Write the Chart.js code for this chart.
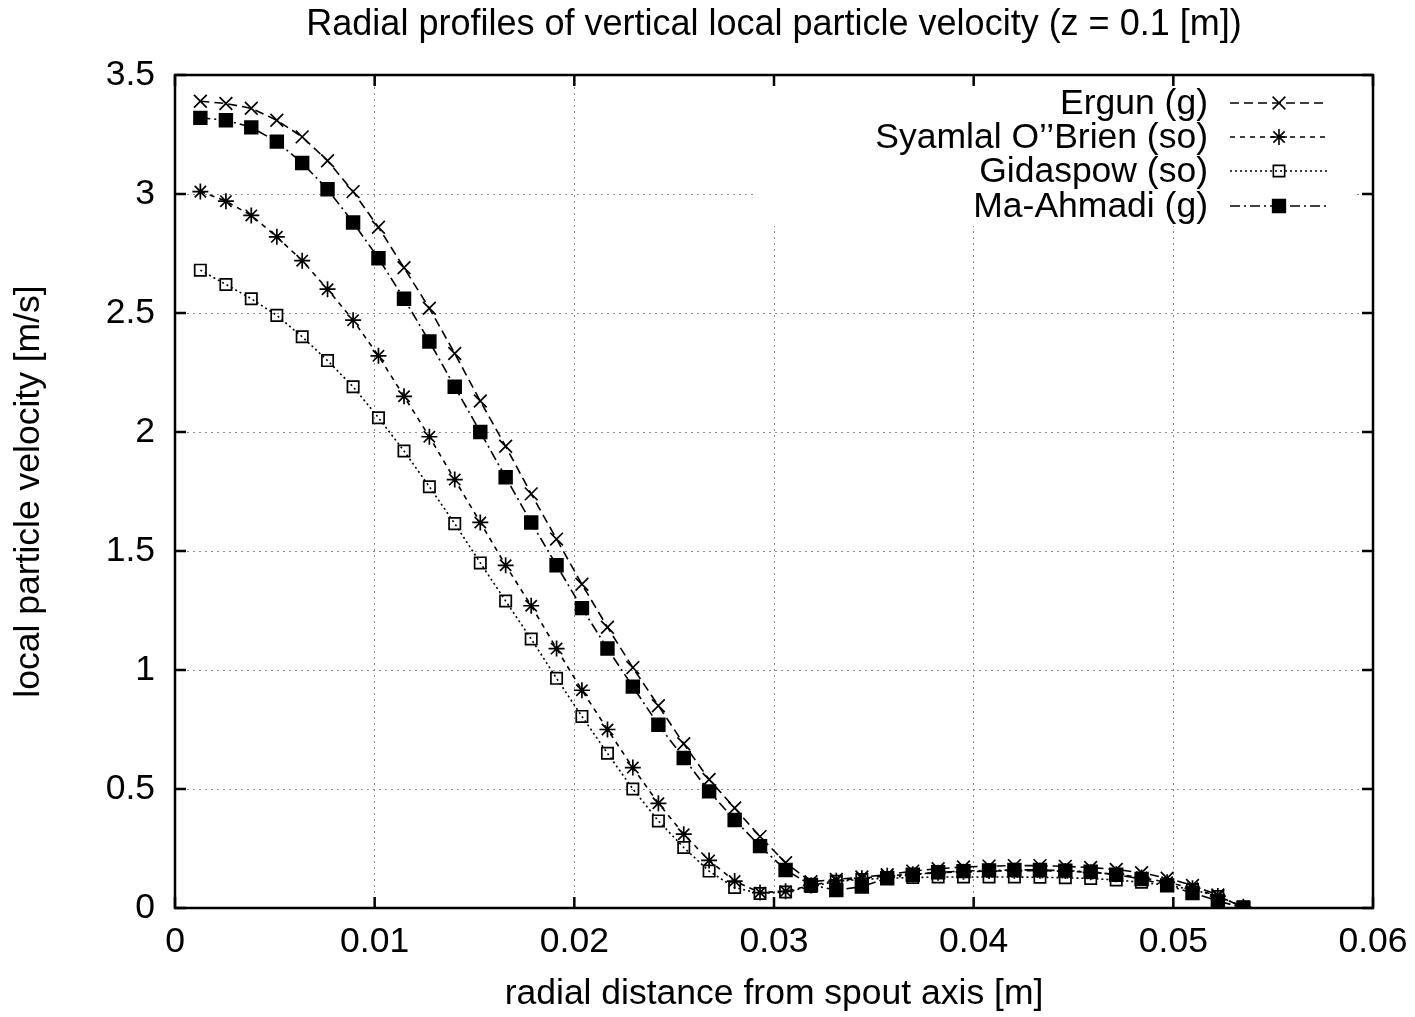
<!DOCTYPE html>
<html>
<head>
<meta charset="utf-8">
<script src="https://cdn.jsdelivr.net/npm/chart.js@4"></script>
<style>
  html, body { margin: 0; padding: 0; background: #fff; }
  #wrap { width: 1415px; height: 1017px; }
</style>
</head>
<body>
<div id="wrap"><canvas id="c"></canvas></div>
<script>
// radial positions [m]
const radius = [
  0.00127, 0.00255, 0.00382, 0.00510, 0.00637, 0.00764, 0.00892, 0.01019, 0.01147, 0.01274,
  0.01401, 0.01529, 0.01656, 0.01784, 0.01911, 0.02038, 0.02166, 0.02293, 0.02421, 0.02548,
  0.02675, 0.02803, 0.02930, 0.03058, 0.03185, 0.03312, 0.03440, 0.03567, 0.03695, 0.03822,
  0.03949, 0.04077, 0.04204, 0.04332, 0.04459, 0.04586, 0.04714, 0.04841, 0.04969, 0.05096,
  0.05223, 0.05351
];

// vertical particle velocity [m/s]
const ergun = [
  3.39, 3.38, 3.36, 3.31, 3.24, 3.14, 3.01, 2.86, 2.69, 2.52,
  2.33, 2.13, 1.94, 1.74, 1.55, 1.36, 1.18, 1.01, 0.85, 0.69,
  0.54, 0.42, 0.30, 0.19, 0.11, 0.12, 0.13, 0.14, 0.155, 0.165,
  0.172, 0.176, 0.178, 0.178, 0.175, 0.17, 0.162, 0.148, 0.125, 0.095,
  0.055, 0.0
];
const syamlal = [
  3.01, 2.97, 2.91, 2.82, 2.72, 2.60, 2.47, 2.32, 2.15, 1.98,
  1.80, 1.62, 1.44, 1.27, 1.09, 0.915, 0.75, 0.59, 0.44, 0.31,
  0.20, 0.113, 0.065, 0.07, 0.095, 0.115, 0.125, 0.135, 0.142, 0.148,
  0.152, 0.155, 0.157, 0.157, 0.155, 0.15, 0.142, 0.128, 0.108, 0.083,
  0.05, 0.005
];
const gidaspow = [
  2.68, 2.62, 2.56, 2.49, 2.40, 2.30, 2.19, 2.06, 1.92, 1.77,
  1.615, 1.45, 1.29, 1.13, 0.965, 0.805, 0.65, 0.50, 0.366, 0.254,
  0.155, 0.086, 0.061, 0.067, 0.09, 0.112, 0.12, 0.125, 0.128, 0.13,
  0.13, 0.13, 0.13, 0.129, 0.127, 0.124, 0.118, 0.108, 0.095, 0.078,
  0.048, 0.005
];
const maAhmadi = [
  3.32, 3.31, 3.28, 3.22, 3.13, 3.02, 2.88, 2.73, 2.56, 2.38,
  2.19, 2.00, 1.81, 1.62, 1.44, 1.26, 1.09, 0.93, 0.77, 0.63,
  0.49, 0.37, 0.26, 0.16, 0.097, 0.075, 0.09, 0.125, 0.14, 0.15,
  0.155, 0.158, 0.16, 0.16, 0.157, 0.152, 0.14, 0.122, 0.095, 0.063,
  0.03, 0.0
];

const seriesNames = ['Ergun (g)', "Syamlal O\u2019\u2019Brien (so)", 'Gidaspow (so)', 'Ma-Ahmadi (g)'];
const xTicks = [0, 0.01, 0.02, 0.03, 0.04, 0.05, 0.06];
const yTicks = [0, 0.5, 1, 1.5, 2, 2.5, 3, 3.5];
const chartTitle = 'Radial profiles of vertical local particle velocity (z = 0.1 [m])';

const FONT = 'Liberation Sans, Arial, Helvetica, sans-serif';
const FS = 35.5;

function pts(ys) {
  return radius.map((x, i) => ({ x: x, y: ys[i] }));
}

const styles = [
  { dash: [9, 5], point: 'crossRot', r: 9, fill: 'transparent' },
  { dash: [5, 5], point: 'star', r: 8, fill: 'transparent' },
  { dash: [2, 3], point: 'rect', r: 8, fill: 'transparent' },
  { dash: [10, 4, 2, 4], point: 'rect', r: 9, fill: '#000' }
];
const values = [ergun, syamlal, gidaspow, maAhmadi];

const datasets = values.map((v, k) => ({
  label: seriesNames[k],
  data: pts(v),
  showLine: true,
  borderColor: '#000',
  borderWidth: 1.6,
  borderDash: styles[k].dash,
  pointStyle: styles[k].point,
  pointRadius: styles[k].r,
  pointBorderWidth: 1.7,
  pointBorderColor: '#000',
  pointBackgroundColor: styles[k].fill,
  tension: 0
}));

// simple marker for the key samples
function marker(ctx, style, x, y, r, fill) {
  ctx.save();
  ctx.setLineDash([]);
  ctx.lineWidth = 1.6;
  ctx.strokeStyle = '#000';
  ctx.beginPath();
  if (style === 'crossRot' || style === 'star') {
    const d = r * Math.SQRT1_2;
    ctx.moveTo(x - d, y - d); ctx.lineTo(x + d, y + d);
    ctx.moveTo(x - d, y + d); ctx.lineTo(x + d, y - d);
    if (style === 'star') {
      ctx.moveTo(x - r, y); ctx.lineTo(x + r, y);
      ctx.moveTo(x, y - r); ctx.lineTo(x, y + r);
    }
    ctx.stroke();
  } else {
    const s = r * Math.SQRT1_2;
    ctx.rect(x - s, y - s, 2 * s, 2 * s);
    if (fill !== 'transparent') { ctx.fillStyle = fill; ctx.fill(); }
    ctx.stroke();
  }
  ctx.restore();
}

const keyBox = { left: 755, top: 77, right: 1355, bottom: 226 };

const gnuplotFrame = {
  id: 'gnuplotFrame',
  beforeDatasetsDraw(chart) {
    // opaque key background hides the grid
    const ctx = chart.ctx;
    ctx.save();
    ctx.fillStyle = '#fff';
    ctx.fillRect(keyBox.left, keyBox.top, keyBox.right - keyBox.left, keyBox.bottom - keyBox.top);
    ctx.restore();
  },
  afterDatasetsDraw(chart) {
    const ctx = chart.ctx;
    const a = chart.chartArea;
    const xs = chart.scales.x, ys = chart.scales.y;
    ctx.save();
    ctx.setLineDash([]);
    ctx.strokeStyle = '#000';
    ctx.lineWidth = 2.5;
    ctx.strokeRect(a.left, a.top, a.right - a.left, a.bottom - a.top);
    // inward tick marks
    const tl = 11;
    ctx.beginPath();
    xTicks.forEach(t => {
      const px = xs.getPixelForValue(t);
      ctx.moveTo(px, a.bottom); ctx.lineTo(px, a.bottom - tl);
      ctx.moveTo(px, a.top); ctx.lineTo(px, a.top + tl);
    });
    yTicks.forEach(t => {
      const py = ys.getPixelForValue(t);
      ctx.moveTo(a.left, py); ctx.lineTo(a.left + tl, py);
      ctx.moveTo(a.right, py); ctx.lineTo(a.right - tl, py);
    });
    ctx.stroke();

    // title, centred over the plot area
    ctx.fillStyle = '#000';
    ctx.font = '36px ' + FONT;
    ctx.textAlign = 'center';
    ctx.textBaseline = 'middle';
    ctx.fillText(chartTitle, (a.left + a.right) / 2, 25);

    // key
    const rowY = [103, 137, 171, 206];
    ctx.font = FS + 'px ' + FONT;
    ctx.textAlign = 'right';
    seriesNames.forEach((name, k) => {
      const y = rowY[k];
      ctx.fillText(name, 1208, y + 1);
      ctx.save();
      ctx.lineWidth = 1.4;
      ctx.setLineDash(styles[k].dash);
      ctx.beginPath();
      ctx.moveTo(1230, y); ctx.lineTo(1328, y);
      ctx.stroke();
      ctx.restore();
      marker(ctx, styles[k].point, 1279, y, styles[k].r, styles[k].fill);
    });
    ctx.restore();
  }
};

new Chart(document.getElementById('c'), {
  type: 'scatter',
  data: { datasets: datasets },
  options: {
    responsive: true,
    maintainAspectRatio: false,
    animation: false,
    layout: { padding: { left: 0, right: 42, top: 75, bottom: 0 } },
    plugins: {
      legend: { display: false },
      tooltip: { enabled: false },
      title: { display: false }
    },
    scales: {
      x: {
        type: 'linear',
        min: 0,
        max: 0.06,
        afterBuildTicks: (axis) => { axis.ticks = xTicks.map(v => ({ value: v })); },
        afterFit: (axis) => { axis.height = 109; axis.paddingRight = 0; axis.paddingLeft = 0; },
        ticks: {
          color: '#000',
          padding: 13,
          font: { family: FONT, size: FS },
          callback: (v) => String(v)
        },
        grid: { color: '#8a8a8a', lineWidth: 1, drawTicks: false },
        border: { display: false, dash: [2, 4] },
        title: {
          display: true,
          text: 'radial distance from spout axis [m]',
          color: '#000',
          font: { family: FONT, size: FS },
          padding: { top: 0, bottom: 1 }
        }
      },
      y: {
        type: 'linear',
        min: 0,
        max: 3.5,
        afterBuildTicks: (axis) => { axis.ticks = yTicks.map(v => ({ value: v })); },
        afterFit: (axis) => { axis.width = 175; axis.paddingTop = 0; axis.paddingBottom = 0; },
        ticks: {
          color: '#000',
          padding: 20,
          font: { family: FONT, size: FS },
          callback: (v) => String(v)
        },
        grid: { color: '#8a8a8a', lineWidth: 1, drawTicks: false },
        border: { display: false, dash: [2, 4] },
        title: {
          display: true,
          text: 'local particle velocity [m/s]',
          color: '#000',
          font: { family: FONT, size: FS },
          padding: { top: 8, bottom: 0 }
        }
      }
    }
  },
  plugins: [gnuplotFrame]
});
</script>
</body>
</html>
